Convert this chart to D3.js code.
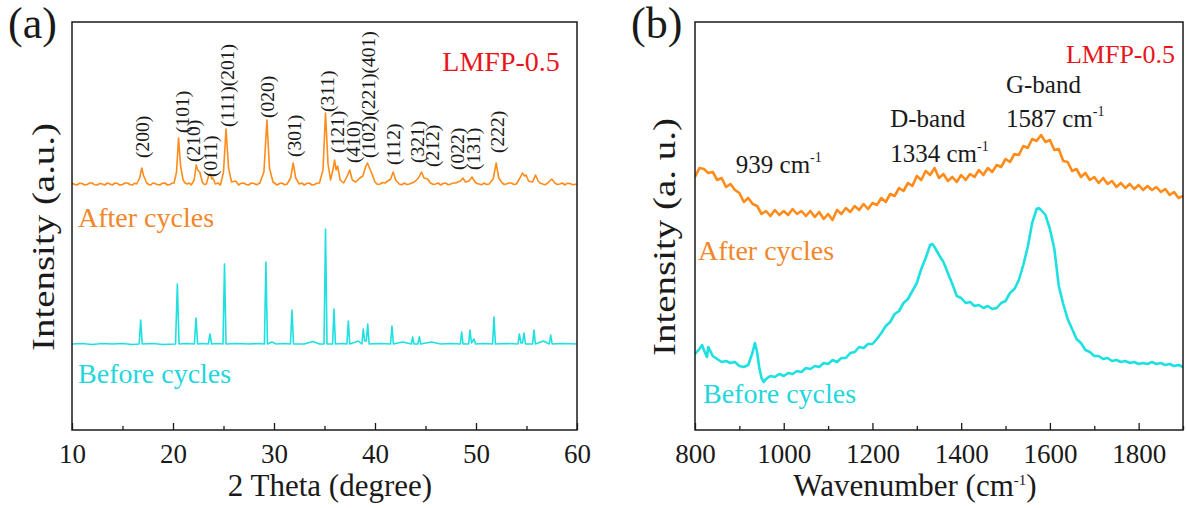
<!DOCTYPE html>
<html>
<head>
<meta charset="utf-8">
<script src="https://d3js.org/d3.v7.min.js"></script>
<style>
  html, body { margin: 0; padding: 0; background: #fff; }
  svg { display: block; font-family: "Liberation Serif", "Times New Roman", serif; }
</style>
</head>
<body>
<svg id="chart" width="1187" height="508"></svg>
<script>
// ---------- data (intensities in a.u.) ----------

// XRD, after cycles: [2theta, intensity above its own baseline]
const xrdAfter = [
  [10,1],[10.25,-0.5],[10.5,-1],[10.75,0.8],[11,0.5],[11.25,-1],[11.5,-0.5],[11.75,1],[12,1],[12.25,-0.8],
  [12.5,-1],[12.75,0.5],[13,0],[13.25,-1],[13.5,1],[13.75,0],[14,-1],[14.25,1],[14.5,0.5],[14.75,-1],
  [15,-0.5],[15.25,1],[15.5,1],[15.75,-0.5],[16,-1],[16.2,0.8],[16.4,0],[16.7,6],[16.9,16],[17.1,8],[17.4,1],[17.6,-0.5],[17.8,-1],[18,1],[18.2,0.5],
  [18.45,-0.5],[18.7,-1],[18.95,0.8],[19.2,1],[19.45,-1],[19.7,-0.5],[19.9,0.8],[20.1,1],[20.35,12],[20.55,46],[20.75,18],[21,4],[21.2,1],[21.4,0],[21.6,1],[21.8,-1],
  [22.1,4],[22.3,19],[22.45,14],[22.65,12],[22.9,2],[23.1,-0.5],[23.3,0],[23.55,9],[23.7,10],[23.85,5],[23.95,6],
  [24.2,0],[24.45,1],[24.7,-1],[25,12],[25.25,55],[25.5,16],[25.8,2],[26.2,3],[26.5,-1],[26.75,0.8],[27,1],[27.25,-0.5],[27.5,-1],
  [27.75,1],[28,0.5],[28.3,-0.8],[28.6,1],[29,12],[29.3,64],[29.55,16],[29.9,2],[30.1,0.5],[30.3,-1],[30.55,0.5],[30.8,1],[31.05,-0.8],[31.3,0],[31.65,6],
  [31.9,21],[32.15,6],[32.5,0],[32.75,1],[33,-1],[33.25,0.5],[33.5,1],[33.75,-1],[34,-0.5],[34.25,0.8],[34.5,1],[34.85,14],[35.1,71],[35.35,20],
  [35.6,4],[35.85,15],[36,24],[36.15,14],[36.3,18],[36.55,4],[36.9,1],[37.25,8],[37.5,14],[37.75,4],
  [38.1,2],[38.5,6],[38.8,8],[39.1,18],[39.25,21],[39.5,15],[39.7,10],[40,2],[40.25,-0.5],[40.5,0],[40.75,1.5],[41,1],
  [41.55,5],[41.8,12],[42.05,4],[42.4,0],[42.65,-0.8],[42.9,1],[43.15,-0.5],[43.4,0],[43.65,1],[43.9,2],[44.3,6],[44.6,12],[44.85,6],
  [45.2,5],[45.5,1],[45.75,-0.5],[46,0],[46.25,1],[46.5,-1],[46.75,0.5],[47,1],[47.25,-0.8],[47.5,0],[47.75,1],[48,1],[48.45,3],[48.7,6],[48.95,2],
  [49.3,3],[49.6,7],[49.9,2],[50.1,0.5],[50.3,0],[50.55,-0.8],[50.8,1],[51.05,-0.5],[51.3,0],[51.7,5],[52,21],[52.25,6],[52.6,1],
  [52.8,-0.5],[53,0],[53.25,1],[53.5,1],[53.75,-0.5],[54,0],[54.35,6],[54.6,11],[54.8,8],[54.95,9],[55.2,3],[55.6,2],[55.9,9],
  [56.15,3],[56.35,1],[56.6,0],[56.85,-0.8],[57.1,1],[57.5,5],[57.8,1],[58.05,-0.5],[58.3,0],[58.55,1],[58.8,-1],[59.05,0.8],[59.3,0.5],[59.6,-0.8],[60,0]
];

// XRD, before cycles
const xrdBefore = [
  [10,0],[11,0.5],[12,-0.5],[13,0.5],[14,0],[15,0.5],[16,-0.5],[16.65,0],[16.8,24],[16.95,0],
  [18,0.5],[19,-0.5],[20.25,0],[20.43,60],[20.6,0],[21.3,0.5],[22.12,0],[22.28,26],[22.44,0],[22.9,0.5],
  [23.5,0],[23.66,10],[23.82,0],[24.4,0.5],[24.95,0],[25.1,80],[25.25,0],[26.3,0.5],[27.5,0],[28.5,0.5],
  [29.05,0],[29.2,82],[29.35,0],[29.8,2],[30.2,0],[31,0.5],[31.63,0],[31.78,34],[31.93,0],[33,0],
  [33.86,2.5],[34.5,0],[34.95,0],[35.1,115],[35.25,0],[35.8,0],[35.94,35],[36.08,0],[36.7,0.5],[37.22,0],
  [37.36,23],[37.5,0],[38.35,3],[38.7,0],[38.84,15],[38.98,3],[39.14,3],[39.28,20],[39.42,0],[40.5,0.5],
  [41.54,0],[41.68,18],[41.82,0],[42.74,2],[43.6,0],[43.73,7],[43.86,0],[44.25,0],[44.39,7.3],[44.52,0],
  [45.6,2],[46.5,0],[47.5,0.5],[48.45,0],[48.58,12],[48.72,0],[49.27,0],[49.4,14],[49.55,1],[49.8,5],
  [49.95,0],[50.8,0.5],[51.64,0],[51.78,27],[51.92,0],[53,0.5],[54.15,0],[54.29,10],[54.45,1],[54.6,1],
  [54.75,11],[54.9,0],[55.6,0],[55.74,14],[55.88,0],[56.67,3],[57.26,0],[57.4,9],[57.54,0],[58.5,0.5],[60,0]
];

// Miller-index labels: [text, 2theta, intensity level of the label foot]
const hklLabels = [
  ["(200)",16.93,272],["(101)",20.9,297],["(210)",22.0,268],["(011)",23.66,253],
  ["(111)(201)",25.35,303],["(020)",29.3,312],["(301)",31.98,273],["(311)",35.25,318],
  ["(121)",36.24,277],["(410)",37.82,267],["(102)(221)(401)",39.3,272],["(112)",41.78,265],
  ["(321)",44.16,267],["(212)",45.64,263],["(022)",48.12,260],["(131)",49.7,260],["(222)",52.08,277]
];

// Raman, after cycles: [wavenumber, intensity]
const ramanAfter = [
  [800,253],[810,262],[820,261],[830,257],[840,258],[850,250],[860,252],[870,243],[880,246],[890,240],
  [900,237],[910,228],[920,232],[930,226],[940,224],[950,216],[960,219],[970,214],[980,220],[990,215],
  [1000,219],[1010,215],[1020,221],[1030,216],[1040,219],[1050,214],[1060,219],[1070,213],[1080,218],[1090,211],
  [1100,216],[1110,210],[1120,220],[1130,216],[1140,222],[1150,218],[1160,224],[1170,220],[1180,226],[1190,221],
  [1200,227],[1210,225],[1220,232],[1230,228],[1240,236],[1250,234],[1260,242],[1270,239],[1280,247],[1290,244],
  [1300,254],[1310,250],[1320,259],[1330,255],[1340,262],[1350,252],[1360,256],[1370,249],[1380,253],[1390,248],
  [1400,255],[1410,250],[1420,256],[1430,253],[1440,260],[1450,255],[1460,262],[1470,258],[1480,265],[1490,263],
  [1500,271],[1510,268],[1520,276],[1530,275],[1540,284],[1550,282],[1560,291],[1570,289],[1580,295],[1590,288],
  [1600,290],[1610,280],[1620,281],[1630,269],[1640,268],[1650,259],[1660,261],[1670,253],[1680,257],[1690,250],
  [1700,253],[1710,247],[1720,252],[1730,246],[1740,249],[1750,243],[1760,247],[1770,242],[1780,246],[1790,241],
  [1800,245],[1810,240],[1820,244],[1830,240],[1840,243],[1850,238],[1860,241],[1870,235],[1880,238],[1890,232],[1900,234]
];

// Raman, before cycles
const ramanBefore = [
  [800,76],[810,81],[816,85],[820,80],[827,73],[830,83],[840,74],[850,71],[860,68],[870,69],
  [880,67],[890,68],[900,64],[910,63],[920,65],[930,78],[935,87],[940,78],[945,62],[950,52],
  [955,48],[960,51],[970,54],[980,53],[990,56],[1000,54],[1010,57],[1020,56],[1030,59],[1040,58],
  [1050,62],[1060,61],[1070,64],[1080,63],[1090,67],[1100,66],[1110,70],[1120,68],[1130,72],[1140,72],
  [1150,77],[1160,78],[1170,83],[1180,82],[1190,86],[1200,86],[1210,91],[1220,97],[1230,104],[1240,108],
  [1250,116],[1260,119],[1270,127],[1280,131],[1290,139],[1300,147],[1310,161],[1320,172],[1330,185],[1335,186],
  [1340,183],[1350,175],[1360,168],[1370,157],[1380,146],[1390,134],[1400,132],[1410,127],[1420,128],[1430,124],
  [1440,125],[1450,122],[1460,124],[1470,121],[1480,122],[1490,127],[1500,129],[1510,137],[1520,141],[1530,150],
  [1540,165],[1550,183],[1560,207],[1570,221],[1575,222],[1580,220],[1590,215],[1600,201],[1610,181],[1620,144],
  [1630,126],[1640,111],[1650,101],[1660,91],[1670,87],[1680,80],[1690,78],[1700,74],[1710,74],[1720,71],
  [1730,72],[1740,69],[1750,70],[1760,68],[1770,69],[1780,67],[1790,68],[1800,66],[1810,67],[1820,66],
  [1830,68],[1840,66],[1850,67],[1860,65],[1870,66],[1880,64],[1890,65],[1900,63]
];

// Raman annotations: [main text, superscript, wavenumber, level]
const ramanNotes = [
  ["939 cm", "-1", 892, 257],
  ["D-band", "", 1240, 303],
  ["1334 cm", "-1", 1240, 268],
  ["G-band", "", 1501, 337],
  ["1587 cm", "-1", 1501, 303]
];

const xrdMajor = [10, 20, 30, 40, 50, 60];
const xrdMinor = [15, 25, 35, 45, 55];
const ramanMajor = [800, 1000, 1200, 1400, 1600, 1800];
const ramanMinor = [900, 1100, 1300, 1500, 1700, 1900];

// ---------- styles ----------
const ORANGE = "#ff8c1a";
const CYAN = "#1ee0e0";
const ORANGE_TXT = "#f2862a";
const CYAN_TXT = "#22d6dc";
const RED = "#e8161c";
const INK = "#1a1a1a";

const svg = d3.select("#chart");
const plotTop = 22, plotBottom = 430;

const panels = [
  {
    id: "a", left: 72, right: 577, domain: [10, 60],
    major: xrdMajor, minor: xrdMinor,
    series: [
      { data: xrdAfter, offset: 246, color: ORANGE, width: 1.6 },
      { data: xrdBefore, offset: 86, color: CYAN, width: 1.6 }
    ],
    afterLabel: [10.6, 203], beforeLabel: [10.6, 47],
    tag: [58.3, 359], tagSize: 28,
    yTitle: "Intensity (a.u.)", yTitleX: 53.5, yTitleLen: 228,
    xTitleX: 330
  },
  {
    id: "b", left: 695, right: 1183, domain: [800, 1900],
    major: ramanMajor, minor: ramanMinor,
    series: [
      { data: ramanAfter, offset: 0, color: ORANGE, width: 2.6 },
      { data: ramanBefore, offset: 0, color: CYAN, width: 2.6 }
    ],
    afterLabel: [807, 170], beforeLabel: [818, 27],
    tag: [1882, 367], tagSize: 26,
    yTitle: "Intensity (a. u.)", yTitleX: 675, yTitleLen: 238,
    xTitleX: 915
  }
];

const defs = svg.append("defs");

panels.forEach(p => {
  const x = d3.scaleLinear().domain(p.domain).range([p.left, p.right]);
  const y = d3.scaleLinear().domain([0, plotBottom - plotTop]).range([plotBottom, plotTop]);
  const g = svg.append("g").attr("class", "panel-" + p.id);

  defs.append("clipPath").attr("id", "clip-" + p.id)
    .append("rect")
    .attr("x", p.left).attr("y", plotTop)
    .attr("width", p.right - p.left).attr("height", plotBottom - plotTop);

  // curves
  const plot = g.append("g").attr("clip-path", `url(#clip-${p.id})`);
  p.series.forEach(s => {
    const line = d3.line()
      .x(d => x(d[0]))
      .y(d => y(d[1] + s.offset));
    plot.append("path")
      .datum(s.data)
      .attr("d", line)
      .attr("fill", "none")
      .attr("stroke", s.color)
      .attr("stroke-width", s.width)
      .attr("stroke-linejoin", "round");
  });

  // axes (ticks point inward)
  const axisG = g.append("g").attr("transform", `translate(0,${plotBottom})`);
  axisG.call(d3.axisBottom(x).tickValues(p.major).tickSizeInner(-7).tickSizeOuter(0)
    .tickPadding(14).tickFormat(d3.format("d")));
  axisG.select(".domain").remove();
  axisG.selectAll("text")
    .attr("font-size", 27)
    .attr("font-family", "Liberation Serif, serif")
    .attr("fill", INK);
  axisG.selectAll("line").attr("stroke", INK).attr("stroke-width", 1.3);

  const minorG = g.append("g").attr("transform", `translate(0,${plotBottom})`);
  minorG.call(d3.axisBottom(x).tickValues(p.minor).tickSizeInner(-4).tickSizeOuter(0).tickFormat(""));
  minorG.select(".domain").remove();
  minorG.selectAll("line").attr("stroke", INK).attr("stroke-width", 1.3);

  // frame
  g.append("rect")
    .attr("x", p.left).attr("y", plotTop)
    .attr("width", p.right - p.left).attr("height", plotBottom - plotTop)
    .attr("fill", "none").attr("stroke", INK).attr("stroke-width", 1.5);

  // series labels
  g.append("text")
    .attr("x", x(p.afterLabel[0])).attr("y", y(p.afterLabel[1]))
    .attr("font-size", 28).attr("fill", ORANGE_TXT)
    .text("After cycles");
  g.append("text")
    .attr("x", x(p.beforeLabel[0])).attr("y", y(p.beforeLabel[1]))
    .attr("font-size", 28).attr("fill", CYAN_TXT)
    .text("Before cycles");

  // sample tag
  g.append("text")
    .attr("x", x(p.tag[0])).attr("y", y(p.tag[1]))
    .attr("text-anchor", "end")
    .attr("font-size", p.tagSize).attr("fill", RED)
    .text("LMFP-0.5");

  // panel letter
  g.append("text")
    .attr("x", p.left - 64).attr("y", 38)
    .attr("font-size", 44).attr("fill", INK)
    .text(`(${p.id})`);

  // y title
  g.append("text")
    .attr("transform", `translate(${p.yTitleX},237) rotate(-90)`)
    .attr("text-anchor", "middle")
    .attr("font-size", 31).attr("fill", INK)
    .attr("textLength", p.yTitleLen)
    .attr("lengthAdjust", "spacingAndGlyphs")
    .text(p.yTitle);

  // x title
  const xt = g.append("text")
    .attr("x", p.xTitleX).attr("y", 496)
    .attr("text-anchor", "middle")
    .attr("font-size", 31).attr("fill", INK);
  if (p.id === "a") {
    xt.text("2 Theta (degree)");
  } else {
    xt.append("tspan").text("Wavenumber (cm");
    xt.append("tspan").attr("font-size", 15).attr("dy", -11).text("-1");
    xt.append("tspan").attr("dy", 11).text(")");
  }

  p.x = x; p.y = y; p.g = g;
});

// Miller indices on the XRD panel
const pa = panels[0];
pa.g.selectAll("text.hkl")
  .data(hklLabels)
  .enter()
  .append("text")
  .attr("class", "hkl")
  .attr("transform", d => `translate(${pa.x(d[1])},${pa.y(d[2])}) rotate(-90)`)
  .attr("dy", "0.35em")
  .attr("font-size", 19.5)
  .attr("fill", INK)
  .text(d => d[0]);

// band annotations on the Raman panel
const pb = panels[1];
ramanNotes.forEach(n => {
  const t = pb.g.append("text")
    .attr("x", pb.x(n[2])).attr("y", pb.y(n[3]))
    .attr("font-size", 25).attr("fill", INK);
  t.append("tspan").text(n[0]);
  if (n[1]) {
    t.append("tspan").attr("font-size", 14).attr("dy", -11).text(n[1]);
  }
});
</script>
</body>
</html>
